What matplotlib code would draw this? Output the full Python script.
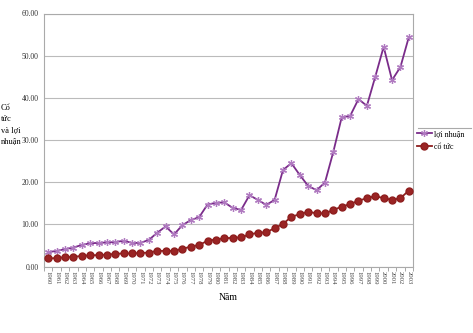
import numpy as np
import matplotlib
matplotlib.use("Agg")
import matplotlib.pyplot as plt
from matplotlib.lines import Line2D

years = list(range(1960, 2004))

loi_nhuan = [3.4, 3.7, 4.1, 4.5, 5.1, 5.5, 5.6, 5.7, 5.8, 6.1,
             5.6, 5.6, 6.3, 8.0, 9.5, 7.6, 9.8, 11.0, 11.7, 14.7,
             15.1, 15.2, 13.9, 13.4, 16.9, 15.8, 14.6, 15.8, 22.9, 24.5,
             21.7, 19.1, 18.1, 19.9, 27.2, 35.4, 35.7, 39.7, 38.1, 45.0,
             52.1, 44.2, 47.3, 54.4]

co_tuc = [1.9, 2.0, 2.2, 2.3, 2.5, 2.65, 2.7, 2.8, 3.0, 3.1,
          3.1, 3.2, 3.3, 3.7, 3.7, 3.7, 4.2, 4.7, 5.1, 6.1,
          6.4, 6.7, 6.8, 6.9, 7.6, 8.0, 8.1, 9.1, 10.1, 11.8,
          12.4, 13.0, 12.6, 12.6, 13.4, 14.2, 14.8, 15.6, 16.2, 16.7,
          16.2, 15.8, 16.2, 18.0]

y_ticks = [0, 10, 20, 30, 40, 50, 60]

plt.rcParams["font.family"] = ["Liberation Serif", "DejaVu Serif"]

fig = plt.figure(figsize=(4.73, 3.33), dpi=100)
ax = fig.add_axes([44 / 473, 1 - 266.5 / 333, 369 / 473, 253 / 333])

x = np.arange(len(years))
ax.plot(x, loi_nhuan, color="#7A2C8A", lw=1.3, marker=(6, 2, 0), ms=5,
        mec="#B07AC0", mew=0.9, label="lợi nhuận", zorder=3)
ax.plot(x, co_tuc, color="#8E1E1E", lw=1.3, marker="o", ms=5,
        mfc="#9A2424", mec="#8E1E1E", label="cổ tức", zorder=3)

ax.set_xlim(-0.5, len(years) - 0.5)
ax.set_ylim(0, 60)
ax.set_yticks(y_ticks)
ax.set_yticklabels([f"{v:.2f}" for v in y_ticks], fontsize=5.5, color="#333333")
ax.set_xticks(x)
ax.set_xticklabels([str(y) for y in years], rotation=-90, fontsize=4.8, color="#444444")
ax.set_xticks(np.arange(-0.5, len(years), 1), minor=True)
ax.tick_params(axis="x", which="major", length=0, pad=3)
ax.tick_params(axis="x", which="minor", length=3, color="#999999")
ax.tick_params(axis="y", length=0, pad=4)

ax.grid(axis="y", color="#BBBBBB", lw=0.8)
ax.set_axisbelow(True)
for s in ["left", "right", "top", "bottom"]:
    ax.spines[s].set_color("#AAAAAA")
    ax.spines[s].set_linewidth(0.8)

ax.set_xlabel("Năm", fontsize=7, labelpad=6)
fig.text(1 / 473, 1 - 104 / 333, "Cổ\ntức\nvà lợi\nnhuận", fontsize=6,
         va="top", ha="left", linespacing=1.5)

leg = ax.legend(loc="upper left", bbox_to_anchor=(1.0, 0.555), frameon=False,
                fontsize=5.8, handlelength=1.8, handletextpad=0.3, labelspacing=0.6,
                borderaxespad=0.3, borderpad=0.2)
fig.add_artist(Line2D([418 / 473, 471 / 473], [1 - 128 / 333, 1 - 128 / 333],
                      color="#AAAAAA", lw=0.8))

fig.savefig("out.png", dpi=100)
